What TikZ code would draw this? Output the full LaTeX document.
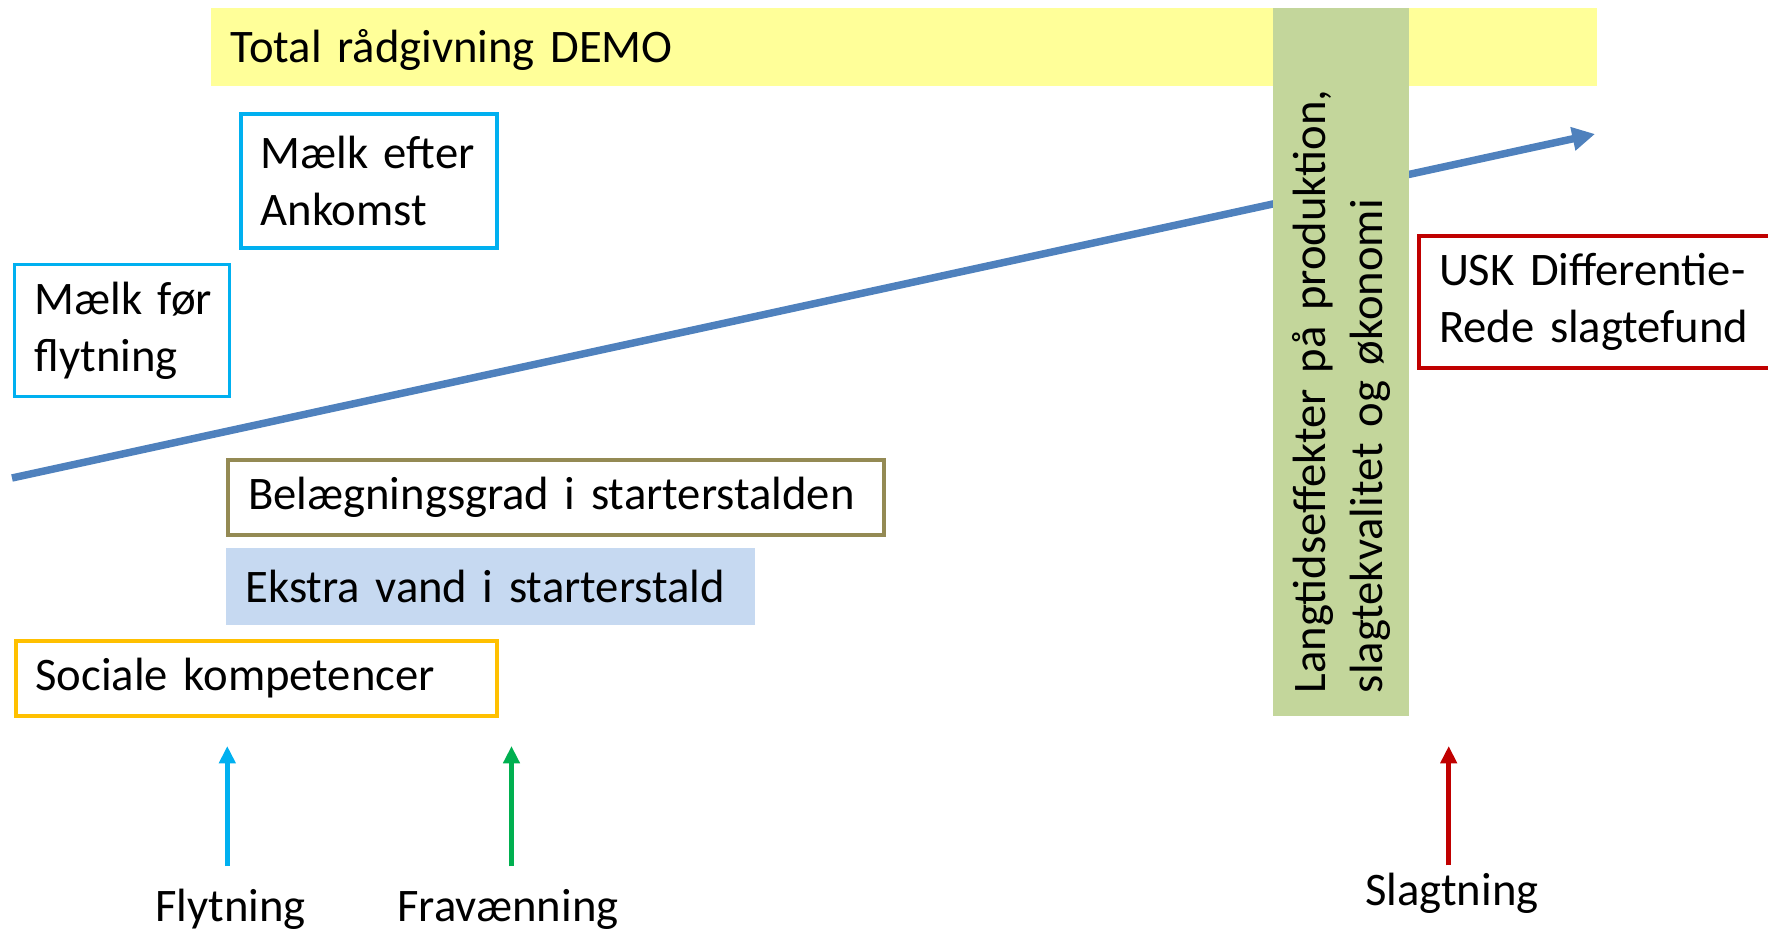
\documentclass[tikz,border=0pt]{standalone}
\usepackage{fontspec}
\setmainfont{Carlito}
\usetikzlibrary{arrows.meta}

\definecolor{demoyellow}{HTML}{FFFF99}
\definecolor{langgreen}{HTML}{C3D69B}
\definecolor{milkcyan}{HTML}{00B0F0}
\definecolor{stalolive}{HTML}{948A54}
\definecolor{waterblue}{HTML}{C6D9F1}
\definecolor{socialgold}{HTML}{FFC000}
\definecolor{uskred}{HTML}{C00000}
\definecolor{trendblue}{HTML}{4F81BD}
\definecolor{weangreen}{HTML}{00B050}

\tikzset{every picture/.style={line width=0.75pt}}
\tikzset{
  slidefont/.style={font=\fontsize{35}{42.75}\selectfont},
  infobox/.style={slidefont, anchor=north west, align=left, inner xsep=15pt, inner ysep=0pt},
  frameline/.style={infobox, draw=#1, line width=3pt, fill=white},
  eventtext/.style={slidefont, inner sep=0pt, anchor=base},
  eventarrow/.style={draw=#1, line width=3.75pt, -{Triangle[length=13pt,width=12pt]}},
}

\begin{document}
\begin{tikzpicture}[x=0.75pt,y=0.75pt,yscale=-1,xscale=1]
\useasboundingbox (0,0) rectangle (1768,930);
\clip (0,0) rectangle (1768,930);

%Bar: Total raadgivning
\node[infobox, fill=demoyellow, minimum height=58.5pt, text width=1009.5pt, text depth=2pt] (demo) at (210,8) {Total rådgivning DEMO};

%Trend arrow
\coordinate (trendstart) at (12,478);
\coordinate (trendend) at (1595,134);
\draw[draw=trendblue, line width=5.6pt, -{Triangle[length=17pt,width=17pt]}] (trendstart) -- (trendend);

%Bar: Langtidseffekter
\node[slidefont, fill=langgreen, rotate=90, minimum width=531pt, minimum height=102pt, text width=496.5pt, inner xsep=17.25pt, inner ysep=0pt, align=left] (langtid) at (1341,362) {Langtidseffekter på produktion,\\slagtekvalitet og økonomi};

%Boxes
\node[frameline=milkcyan, minimum height=100.5pt, text width=162pt] (maelkefter) at (238.5,112) {Mælk~efter\\Ankomst};
\node[frameline=milkcyan, line width=2.25pt, minimum height=99pt, text width=131.25pt] (maelkfoer) at (13,263.5) {Mælk~før\\flytning};
\node[frameline=stalolive, minimum height=56.25pt, text width=462pt] (belaegning) at (226,458) {Belægningsgrad i starterstalden};
\node[infobox, fill=waterblue, minimum height=57.75pt, text width=366.75pt] (ekstravand) at (225,547) {Ekstra vand i starterstald};
\node[frameline=socialgold, minimum height=56.25pt, text width=331.1pt] (sociale) at (13.5,639) {Sociale kompetencer};
\node[frameline=uskred, minimum height=99.45pt, text width=249.75pt] (usk) at (1417,233.7) {USK Differentie-\\Rede slagtefund};

% Text Node
\node[eventtext] (flytning) at (230.5,921.7) {Flytning};
% Text Node
\node[eventtext] (fravaenning) at (508,921.7) {Fravænning};
% Text Node
\node[eventtext] (slagtning) at (1452,905) {Slagtning};

%Event arrows
\coordinate (flyttip) at (227.3,746);
\coordinate (fravtip) at (511.5,746);
\coordinate (slagttip) at (1448.7,746);
\draw[eventarrow=milkcyan, shorten <=17pt] (flytning.north -| flyttip) -- (flyttip);
\draw[eventarrow=weangreen, shorten <=17pt] (fravaenning.north -| fravtip) -- (fravtip);
\draw[eventarrow=uskred, shorten <=5pt] (slagtning.north -| slagttip) -- (slagttip);

\end{tikzpicture}
\end{document}
